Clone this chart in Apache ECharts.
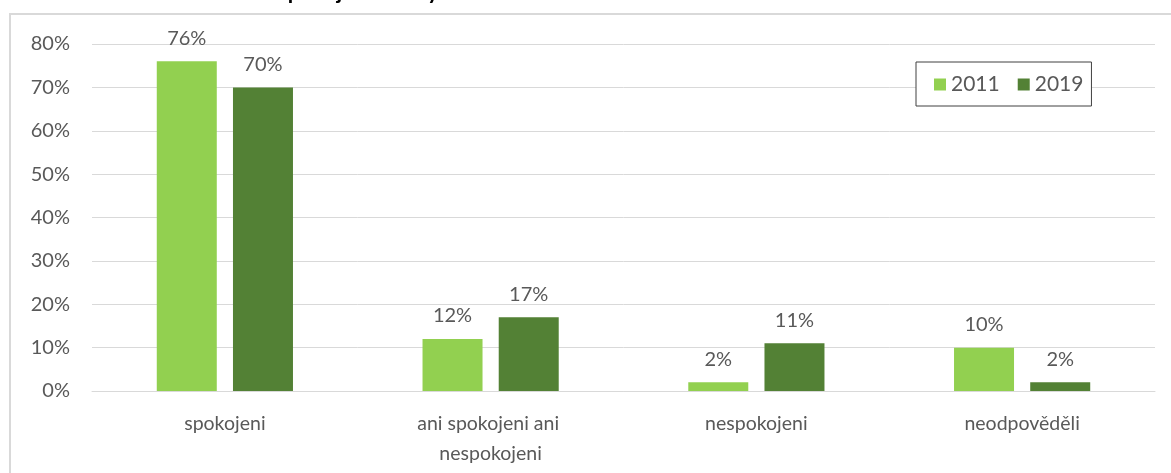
<!DOCTYPE html>
<html>
<head>
<meta charset="utf-8">
<script src="https://cdn.jsdelivr.net/npm/echarts@6/dist/echarts.min.js"></script>
<style>
  html, body { margin: 0; padding: 0; background: #ffffff; }
  #chart { width: 1171px; height: 473px; }
</style>
</head>
<body>
<div id="chart"></div>
<script>
// Survey answers, share of respondents in percent
const categories = ['spokojeni', 'ani spokojeni ani nespokojeni', 'nespokojeni', 'neodpověděli'];
const years = ['2011', '2019'];
const values2011 = [76, 12, 2, 10];
const values2019 = [70, 17, 11, 2];
const yTicks = [0, 10, 20, 30, 40, 50, 60, 70, 80];

const FONT = 'Lato, "Open Sans", sans-serif';
const TEXT = '#595959';
const GRID = '#d9d9d9';

const chart = echarts.init(document.getElementById('chart'), null, { renderer: 'canvas' });

const label = {
  show: true,
  position: 'top',
  distance: 13,
  color: TEXT,
  fontFamily: FONT,
  fontSize: 20,
  formatter: p => p.value + '%'
};

chart.setOption({
  animation: false,
  backgroundColor: '#ffffff',
  textStyle: { fontFamily: FONT },
  graphic: [
    {
      type: 'rect',
      shape: { x: 10, y: 14, width: 1300, height: 600 },
      style: { fill: 'none', stroke: GRID, lineWidth: 2 },
      z: -1
    },
    {
      type: 'text',
      x: 276,
      y: -19,
      style: {
        text: 'Spokojenost obyvatel',
        fill: '#000000',
        font: 'bold 22px ' + FONT
      }
    }
  ],
  legend: {
    data: years,
    left: 916,
    top: 62,
    orient: 'horizontal',
    itemWidth: 12,
    itemHeight: 12,
    itemGap: 18,
    padding: [12, 8, 11, 18],
    backgroundColor: '#ffffff',
    borderColor: '#404040',
    borderWidth: 1,
    icon: 'rect',
    textStyle: { color: TEXT, fontFamily: FONT, fontSize: 21 }
  },
  grid: { left: 92, right: 16, top: 44, bottom: 82, containLabel: false },
  xAxis: {
    type: 'category',
    data: categories,
    axisLine: { show: true, lineStyle: { color: GRID, width: 1 } },
    axisTick: { show: false },
    axisLabel: {
      color: TEXT,
      fontFamily: FONT,
      fontSize: 19.5,
      lineHeight: 30,
      margin: 18,
      width: 190,
      overflow: 'break',
      interval: 0
    }
  },
  yAxis: {
    type: 'value',
    min: yTicks[0],
    max: yTicks[yTicks.length - 1],
    interval: yTicks[1] - yTicks[0],
    axisLine: { show: false },
    axisTick: { show: false },
    splitLine: { lineStyle: { color: GRID, width: 1 } },
    axisLabel: {
      color: TEXT,
      fontFamily: FONT,
      fontSize: 20,
      margin: 22,
      formatter: v => v + '%'
    }
  },
  series: [
    {
      name: years[0],
      type: 'bar',
      data: values2011,
      barWidth: 60,
      barGap: '27%',
      itemStyle: { color: '#92d050' },
      label: label
    },
    {
      name: years[1],
      type: 'bar',
      data: values2019,
      barWidth: 60,
      barGap: '27%',
      itemStyle: { color: '#538135' },
      label: label
    }
  ]
});
</script>
</body>
</html>
